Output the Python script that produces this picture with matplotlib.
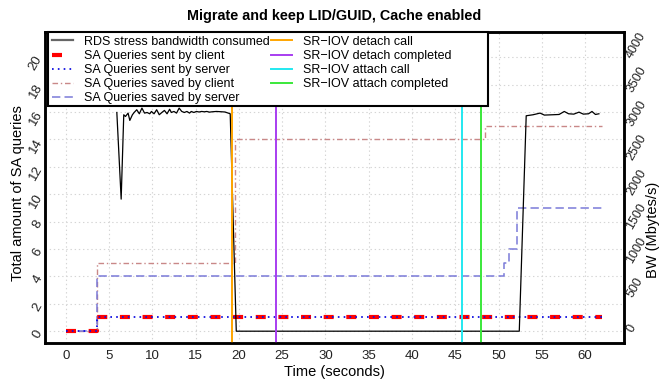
import matplotlib
matplotlib.use("Agg")
import matplotlib.pyplot as plt
from matplotlib.lines import Line2D
from matplotlib.patches import Rectangle

plt.rcParams['font.family'] = ['Liberation Sans', 'DejaVu Sans']
plt.rcParams['lines.scale_dashes'] = False

# ---------------- data ----------------
title = "Migrate and keep LID/GUID, Cache enabled"
xlabel = "Time (seconds)"
ylabel_left = "Total amount of SA queries"
ylabel_right = "BW (Mbytes/s)"

# RDS stress bandwidth (Mbytes/s), right axis
bw_time = [5.9, 6.4, 6.7, 6.9, 7.2, 7.4, 7.7, 7.9, 8.2, 8.5, 8.8, 9.1, 9.4, 9.7,
           9.9, 10.2, 10.5, 10.8, 11.1, 11.4, 11.7, 12.0, 12.2, 12.5, 12.8, 13.1,
           13.4, 13.7, 14.0, 14.3, 14.5, 14.8, 15.1, 15.4, 15.7, 16.0, 16.3, 16.6,
           16.9, 17.4, 17.8, 18.4, 19.0, 19.7,
           52.4, 53.2, 54.0, 54.8, 55.3, 56.3, 57.0, 57.6, 58.1, 58.7, 59.3,
           59.8, 60.4, 60.8, 61.2, 61.6]
bw_value = [3193, 1928, 3160, 3135, 3184, 3077, 3160, 3193, 3233, 3174, 3257, 3184,
            3193, 3174, 3208, 3174, 3233, 3160, 3193, 3223, 3174, 3240, 3193, 3208,
            3184, 3257, 3208, 3193, 3208, 3184, 3208, 3193, 3208, 3200, 3208, 3203,
            3208, 3198, 3203, 3208, 3205, 3200, 3174, 0,
            0, 3145, 3160, 3184, 3155, 3160, 3164, 3208, 3174, 3169, 3198,
            3169, 3174, 3208, 3164, 3174]

# SA queries (step functions, left axis)
sent_client_time = [0, 3.6, 62.0]
sent_client_value = [0, 1, 1]
sent_server_time = [0, 3.6, 62.0]
sent_server_value = [0, 1, 1]
saved_client_time = [0, 3.6, 19.5, 48.4, 62.0]
saved_client_value = [0, 5, 14, 15, 15]
saved_server_time = [0, 3.6, 50.6, 51.2, 52.1, 62.0]
saved_server_value = [0, 4, 5, 6, 9, 9]

# SR-IOV events (seconds)
detach_call = 19.2
detach_completed = 24.3
attach_call = 45.8
attach_completed = 48.0

xticks = list(range(0, 61, 5))
yticks_left = list(range(0, 21, 2))
yticks_right = list(range(0, 4001, 500))

legend_labels = ["RDS stress bandwidth consumed", "SA Queries sent by client",
                 "SA Queries sent by server", "SA Queries saved by client",
                 "SA Queries saved by server", "SR\u2212IOV detach call",
                 "SR\u2212IOV detach completed", "SR\u2212IOV attach call",
                 "SR\u2212IOV attach completed"]

# ---------------- styles ----------------
c_bw = 'black'
c_sent_client = '#FF0000'
c_sent_server = '#1010E0'
c_saved_client = '#C98888'
c_saved_server = '#7A7AD8'
c_detach_call = '#FFA500'
c_detach_done = '#A83DF0'
c_attach_call = '#22E8F0'
c_attach_done = '#3AE83A'

ls_sent_client = (0, (7.2, 9.1))
ls_sent_server = (0, (1.2, 3.0))
ls_saved_client = (0, (4.0, 2.0, 1.0, 2.0))
ls_saved_server = (0, (6.0, 3.0))

fig = plt.figure(figsize=(6.63, 3.79), dpi=100)
ax = fig.add_axes([45/663, 1-342.7/379, (624-45)/663, (342.7-32)/379])
ax2 = ax.twinx()

ax.set_xlim(-2.4, 64.5)
ax.set_ylim(-0.84, 21.84)
ax2.set_ylim(-0.84*200, 21.84*200)

ax.set_axisbelow(True)
ax.grid(True, color='#D5D5D5', linestyle=(0, (1, 2)), linewidth=0.8)
ax.set_xticks(xticks)
ax.set_yticks(yticks_left)
ax2.set_yticks(yticks_right)

# SA query lines
ax.step(saved_client_time, saved_client_value, where='post', color=c_saved_client,
        linestyle=ls_saved_client, linewidth=1.0)
ax.step(saved_server_time, saved_server_value, where='post', color=c_saved_server,
        linestyle=ls_saved_server, linewidth=1.1)
ax.step(sent_client_time, sent_client_value, where='post', color=c_sent_client,
        linestyle=ls_sent_client, linewidth=3.0)
ax.step(sent_server_time, sent_server_value, where='post', color=c_sent_server,
        linestyle=ls_sent_server, linewidth=1.3)

# BW on right axis
ax2.plot(bw_time, bw_value, color=c_bw, linewidth=0.9)

# vertical events
for xv, col in [(detach_call, c_detach_call), (detach_completed, c_detach_done),
                (attach_call, c_attach_call), (attach_completed, c_attach_done)]:
    ax2.axvline(xv, color=col, linewidth=1.4)

# ticks and labels
for a in (ax, ax2):
    a.tick_params(length=0, labelsize=9.5, colors='#222222')
    for s in a.spines.values():
        s.set_linewidth(1.8)
        s.set_color('black')
ax.tick_params(axis='x', pad=5)
ax.tick_params(axis='y', pad=4)
ax2.tick_params(axis='y', pad=4, labelsize=9)
for lbl in ax.get_yticklabels():
    lbl.set_rotation(60)
    lbl.set_rotation_mode('anchor')
    lbl.set_ha('right')
    lbl.set_va('center')
for lbl in ax2.get_yticklabels():
    lbl.set_rotation(60)
    lbl.set_rotation_mode('anchor')
    lbl.set_ha('left')
    lbl.set_va('center')

fig.text(334/663, 1-372/379, xlabel, ha='center', va='center', fontsize=10.5)
fig.text(18/663, 1-193/379, ylabel_left, ha='center', va='center', rotation=90, fontsize=10.5)
fig.text(653/663, 1-230/379, ylabel_right, ha='center', va='center', rotation=90, fontsize=10.5)
fig.text(334/663, 1-15.7/379, title, ha='center', va='center', fontsize=10.4, fontweight='bold')

# legend frame (R-style box, wider than its text)
frame = Rectangle((3/579, 1-(106-32)/310.7), 440/579, (106-32)/310.7,
                  transform=ax2.transAxes, facecolor='white', edgecolor='black',
                  linewidth=1.5, zorder=9, clip_on=False)
ax2.add_patch(frame)

handles = [
    Line2D([], [], color='#666666', linewidth=1.6),
    Line2D([], [], color=c_sent_client, linewidth=3.0, linestyle=ls_sent_client),
    Line2D([], [], color=c_sent_server, linewidth=1.3, linestyle=ls_sent_server),
    Line2D([], [], color=c_saved_client, linewidth=1.0, linestyle=ls_saved_client),
    Line2D([], [], color=c_saved_server, linewidth=1.1, linestyle=ls_saved_server),
    Line2D([], [], color=c_detach_call, linewidth=1.4),
    Line2D([], [], color=c_detach_done, linewidth=1.4),
    Line2D([], [], color=c_attach_call, linewidth=1.4),
    Line2D([], [], color=c_attach_done, linewidth=1.4),
]
leg = ax2.legend(handles, legend_labels, ncol=2, loc='upper left',
                 bbox_to_anchor=(3/579, 1.0), borderaxespad=0, fontsize=9,
                 handlelength=1.7, handletextpad=0.9, columnspacing=0.05,
                 labelspacing=0.17, borderpad=0.3, frameon=False)
leg.set_zorder(10)

fig.savefig('out.png', dpi=100)
